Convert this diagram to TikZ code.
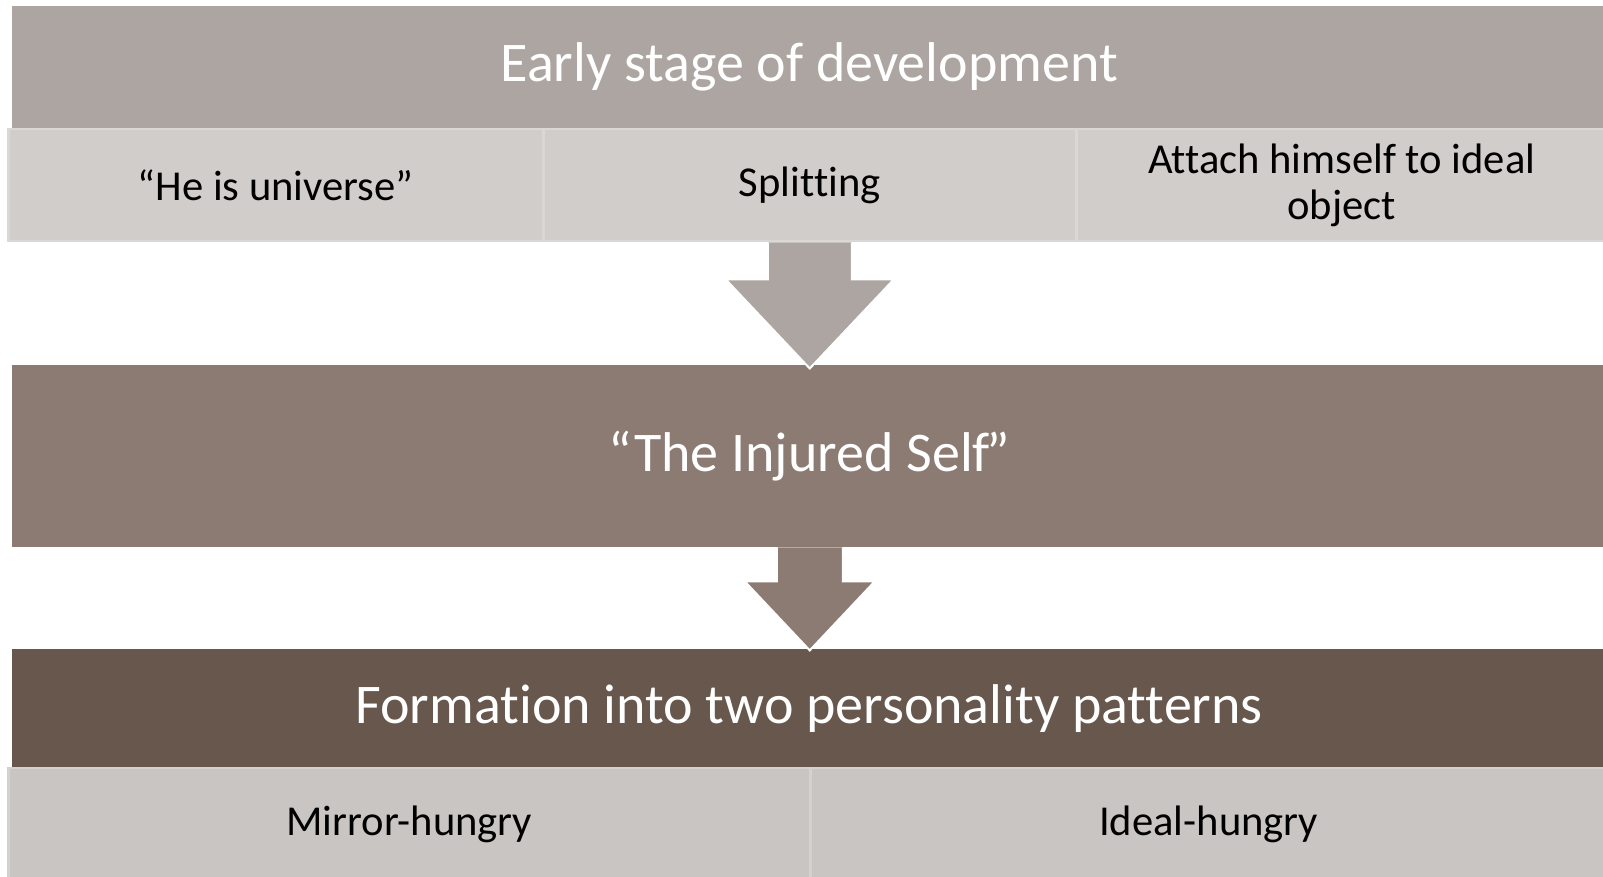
\documentclass[tikz,border=0pt]{standalone}
\usepackage{fontspec}
\setmainfont[Ligatures=NoCommon]{Carlito}
\definecolor{bandA}{HTML}{ADA5A1}
\definecolor{bandB}{HTML}{8C7B72}
\definecolor{bandC}{HTML}{67574D}
\definecolor{cellA}{HTML}{D1CDCB}
\definecolor{cellB}{HTML}{C9C5C2}
\definecolor{edgeA}{HTML}{DAD7D5}
\definecolor{edgeB}{HTML}{D4D1CF}
\tikzset{
  band/.style={anchor=north west,inner sep=0pt,text=white,minimum width=1594bp},
  cell/.style={anchor=north west,inner sep=0pt,text=black,align=center,line width=2.5bp},
  arrowfill/.style={draw=white,line width=2bp,line join=miter}
}
\begin{document}
\begin{tikzpicture}[x=1bp,y=1bp]
\useasboundingbox (0,0) rectangle (1603,876);
\fill[white] (0,0) rectangle (1603,876);
\node[band,fill=bandA,minimum height=122bp,font=\fontsize{56bp}{64bp}\selectfont] (early) at (12,870) {Early stage of development};
\node[cell,fill=cellA,draw=edgeA,minimum width=535bp,minimum height=112bp,font=\fontsize{42.6bp}{46bp}\selectfont] (univ) at (7,748) {“He is universe”};
\node[cell,fill=cellA,draw=edgeA,minimum width=533bp,minimum height=112bp,font=\fontsize{42.6bp}{46bp}\selectfont] (split) at (542,748) {Splitting};
\node[cell,fill=cellA,draw=edgeA,minimum width=531bp,minimum height=112bp,font=\fontsize{42.6bp}{46bp}\selectfont] (attach) at (1075,748) {Attach himself to ideal\\object};
\node[band,fill=bandB,minimum height=182bp,font=\fontsize{56bp}{64bp}\selectfont] (injured) at (12,511) {“The Injured Self\kern-0.06em”};
\node[band,fill=bandC,minimum height=118bp,font=\fontsize{56bp}{64bp}\selectfont] (formation) at (12,227) {Formation into two personality patterns};
\node[cell,fill=cellB,draw=edgeB,minimum width=802bp,minimum height=112bp,font=\fontsize{42.6bp}{46bp}\selectfont] (mirror) at (7,109) {Mirror-hungry};
\node[cell,fill=cellB,draw=edgeB,minimum width=797bp,minimum height=112bp,font=\fontsize{42.6bp}{46bp}\selectfont] (idealh) at (809,109) {Ideal-hungry};
% arrows between the bands
\coordinate (a1) at (split.south);
\coordinate (a2) at (injured.south -| split.south);
\filldraw[arrowfill,fill=bandA] (a1) ++(-42,0) -- ++(0,-37) -- ++(-42,0) -- ++(84,-89) -- ++(84,89) -- ++(-42,0) -- ++(0,37);
\filldraw[arrowfill,fill=bandB] (a2) ++(-33,0) -- ++(0,-34) -- ++(-32,0) -- ++(65,-69) -- ++(65,69) -- ++(-32,0) -- ++(0,34);
\end{tikzpicture}
\end{document}
